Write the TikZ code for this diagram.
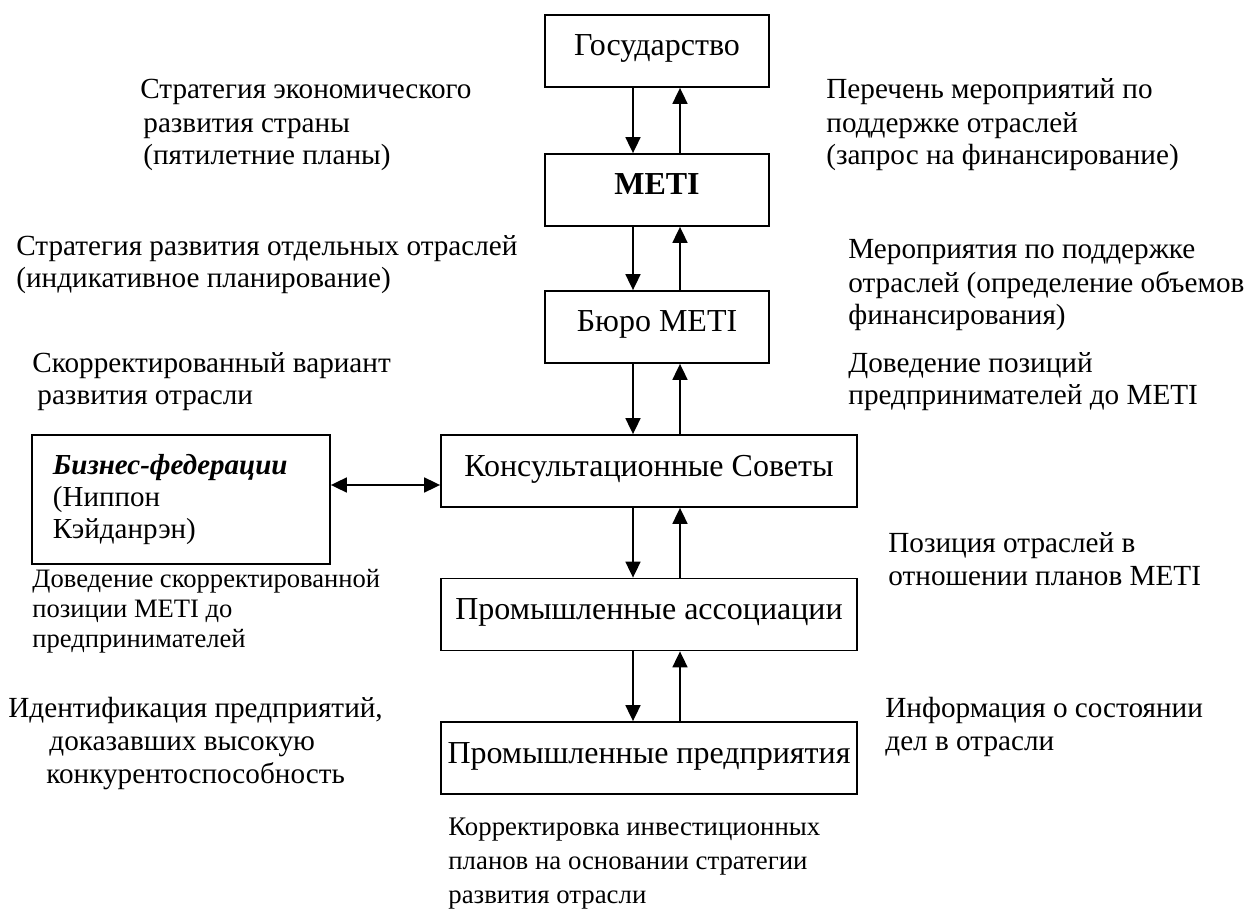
\documentclass[tikz,border=0pt]{standalone}
\usepackage{fontspec}
\setmainfont{Liberation Serif}
\usetikzlibrary{arrows.meta}
\tikzset{>={Triangle[width=7.5pt,length=8pt]}}
\tikzset{
  box/.style={draw, line width=0.9pt, inner sep=0pt,
    font=\fontsize{16}{18}\selectfont},
  orgbox/.style={box, minimum width=112pt, minimum height=36pt,
    text height=10pt, text depth=5pt},
  widebox/.style={orgbox, minimum width=208pt},
  fedbox/.style={box, minimum width=149pt, minimum height=64.5pt,
    align=left, text width=128pt, inner xsep=10.5pt,
    font=\fontsize{14.5}{16}\selectfont},
  lbl/.style={anchor=base west, align=left, inner sep=0pt,
    font=\fontsize{14.6}{16.5}\selectfont},
  link/.style={->, line width=0.9pt}
}
\begin{document}
\begin{tikzpicture}[x=0.5pt, y=-0.5pt]
  \useasboundingbox (0,0) rectangle (1250,915);

  \coordinate (dn) at (633,0); %% down arrows
  \coordinate (up) at (680,0); %% up arrows
  \coordinate (hz) at (0,485); %% federation arrow

  % chain of boxes
  \node[orgbox] (gos) at (657,51) {Государство};
  \node[orgbox] (meti) at (657,190) {\textbf{METI}};
  \node[orgbox] (buro) at (657,327) {Бюро METI};
  \node[widebox] (cons) at (649,471) {Консультационные Советы};
  \node[widebox] (assoc) at (649,614.5) {Промышленные ассоциации};
  \node[widebox] (firms) at (649,758) {Промышленные предприятия};
  \node[fedbox] (fed) at (181,499.5)
    {\textbf{\textit{Бизнес-федерации}}\\(Ниппон\\Кэйданрэн)};

  \draw[link] (gos.south -| dn) -- (meti.north -| dn);
  \draw[link] (meti.north -| up) -- (gos.south -| up);
  \draw[link] (meti.south -| dn) -- (buro.north -| dn);
  \draw[link] (buro.north -| up) -- (meti.south -| up);
  \draw[link] (buro.south -| dn) -- (cons.north -| dn);
  \draw[link] (cons.north -| up) -- (buro.south -| up);
  \draw[link] (cons.south -| dn) -- (assoc.north -| dn);
  \draw[link] (assoc.north -| up) -- (cons.south -| up);
  \draw[link] (assoc.south -| dn) -- (firms.north -| dn);
  \draw[link] (firms.north -| up) -- (assoc.south -| up);
  \draw[link, <->] (fed.east |- hz) -- (cons.west |- hz);

  % left labels (anchored at the last line)
  \node[lbl] (l1) at (140,165) {Стратегия экономического\\\hspace*{1.5pt}развития страны\\\hspace*{1.5pt}(пятилетние планы)};
  \node[lbl] (l2) at (16,288) {Стратегия развития отдельных отраслей\\(индикативное планирование)};
  \node[lbl] (l3) at (32,405) {Скорректированный вариант\\\hspace*{2.5pt}развития отрасли};
  \node[lbl, font=\fontsize{13.3}{15}\selectfont] (l4) at (32,647)
    {Доведение скорректированной\\позиции METI до\\предпринимателей};
  \node[lbl] (l5) at (8,783) {Идентификация предприятий,\\\hspace*{20.5pt}доказавших высокую\\\hspace*{19pt}конкурентоспособность};

  % right labels
  \node[lbl] (r1) at (826,165) {Перечень мероприятий по\\поддержке отраслей\\(запрос на финансирование)};
  \node[lbl] (r2) at (848,325) {Мероприятия по поддержке\\отраслей (определение объемов\\финансирования)};
  \node[lbl] (r3) at (848,405) {Доведение позиций\\предпринимателей до METI};
  \node[lbl] (r4) at (888,585) {Позиция отраслей в\\отношении планов METI};
  \node[lbl] (r5) at (885,750) {Информация о состоянии\\дел в отрасли};

  % bottom label
  \node[lbl, font=\fontsize{13.4}{17}\selectfont] (b1) at (448,903)
    {Корректировка инвестиционных\\планов на основании стратегии\\развития отрасли};
\end{tikzpicture}
\end{document}
